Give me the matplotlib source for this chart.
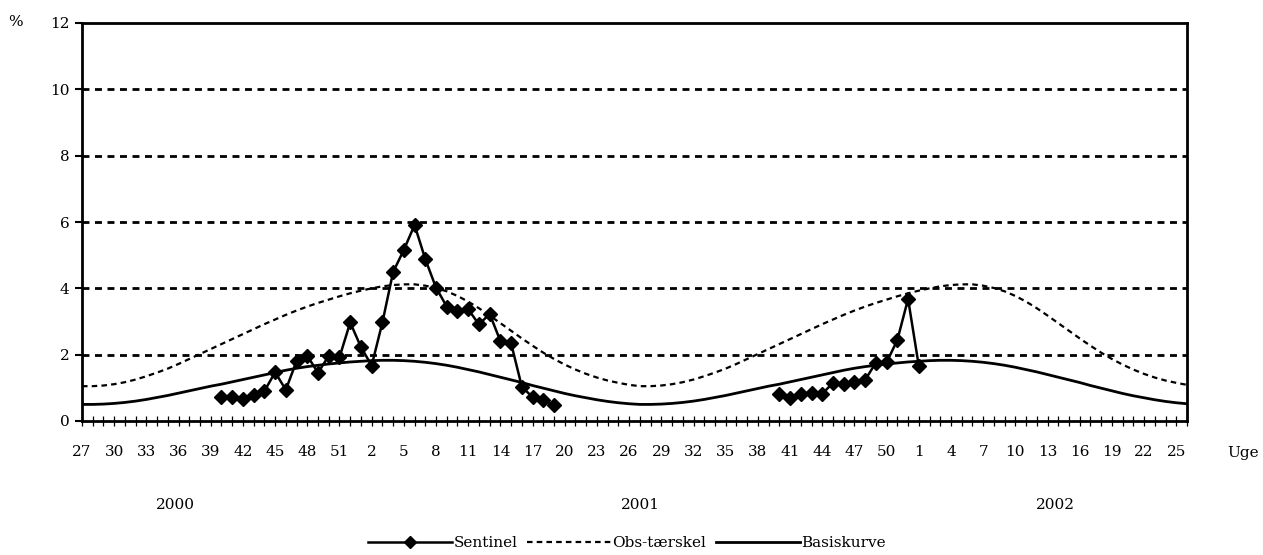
import numpy as np
import matplotlib
matplotlib.use("Agg")
import matplotlib.pyplot as plt
from matplotlib.lines import Line2D

plt.rcParams['font.family'] = ['DejaVu Serif']
plt.rcParams['lines.scale_dashes'] = False

# Week categories: 2000 w27 .. 2002 w26
weeks = list(range(27, 53)) + list(range(1, 53)) + list(range(1, 27))
years = ["2000", "2001", "2002"]

nan = np.nan
sentinel = ([nan] * 13 +
            [0.71, 0.71, 0.66, 0.78, 0.90, 1.47, 0.94, 1.81, 1.97, 1.45, 1.97, 1.92, 2.97,
             2.23, 1.67, 2.97, 4.49, 5.16, 5.91, 4.88, 4.02, 3.45, 3.32, 3.37, 2.91, 3.23,
             2.41, 2.34, 1.03, 0.72, 0.63, 0.48] +
            [nan] * 20 +
            [0.80, 0.68, 0.80, 0.85, 0.82, 1.15, 1.12, 1.17, 1.24, 1.76, 1.77, 2.44, 3.68,
             1.66] +
            [nan] * 25)

obs_threshold = [1.05, 1.05, 1.07, 1.11, 1.17, 1.25, 1.35, 1.46, 1.58, 1.72, 1.87, 2.02, 2.17,
                 2.32, 2.47, 2.62, 2.77, 2.92, 3.06, 3.20, 3.33, 3.45, 3.56, 3.66, 3.76, 3.85,
                 3.93, 4.00, 4.06, 4.10, 4.12, 4.12, 4.08, 4.01, 3.91, 3.77, 3.60, 3.40, 3.18,
                 2.95, 2.72, 2.49, 2.27, 2.06, 1.87, 1.70, 1.55, 1.42, 1.31, 1.22, 1.15, 1.09,
                 1.05, 1.05, 1.07, 1.11, 1.17, 1.25, 1.35, 1.46, 1.58, 1.72, 1.87, 2.02, 2.17,
                 2.32, 2.47, 2.62, 2.77, 2.92, 3.06, 3.20, 3.33, 3.45, 3.56, 3.66, 3.76, 3.85,
                 3.93, 4.00, 4.06, 4.10, 4.12, 4.12, 4.08, 4.01, 3.91, 3.77, 3.60, 3.40, 3.18,
                 2.95, 2.72, 2.49, 2.27, 2.06, 1.87, 1.70, 1.55, 1.42, 1.31, 1.22, 1.15, 1.09]

baseline = [0.50, 0.50, 0.51, 0.53, 0.56, 0.60, 0.65, 0.71, 0.77, 0.84, 0.91, 0.98, 1.05,
            1.11, 1.18, 1.25, 1.32, 1.39, 1.46, 1.53, 1.59, 1.64, 1.68, 1.72, 1.75, 1.78,
            1.80, 1.82, 1.83, 1.83, 1.82, 1.80, 1.77, 1.73, 1.68, 1.62, 1.55, 1.48, 1.40,
            1.32, 1.24, 1.16, 1.07, 0.99, 0.91, 0.83, 0.76, 0.70, 0.64, 0.59, 0.55, 0.52,
            0.50, 0.50, 0.51, 0.53, 0.56, 0.60, 0.65, 0.71, 0.77, 0.84, 0.91, 0.98, 1.05,
            1.11, 1.18, 1.25, 1.32, 1.39, 1.46, 1.53, 1.59, 1.64, 1.68, 1.72, 1.75, 1.78,
            1.80, 1.82, 1.83, 1.83, 1.82, 1.80, 1.77, 1.73, 1.68, 1.62, 1.55, 1.48, 1.40,
            1.32, 1.24, 1.16, 1.07, 0.99, 0.91, 0.83, 0.76, 0.70, 0.64, 0.59, 0.55, 0.52]

y_ticks = [0, 2, 4, 6, 8, 10, 12]

x = np.arange(len(weeks))

fig = plt.figure(figsize=(12.63, 5.55), dpi=100)
ax = fig.add_axes([82 / 1263, 1 - 421 / 555, (1187 - 82) / 1263, (421 - 23) / 555])

# grid
for yv in y_ticks[1:-1]:
    ax.axhline(yv, color='black', lw=2.0, linestyle=(0, (5, 4)), zorder=1)

ax.plot(x, obs_threshold, color='black', lw=1.6, linestyle=(0, (4, 3)), zorder=2)
ax.plot(x, baseline, color='black', lw=2.0, zorder=2)
ax.plot(x, sentinel, color='black', lw=1.8, marker='D', markersize=7.5, zorder=3)

ax.set_xlim(0, len(weeks) - 1)
ax.set_ylim(0, 12)
ax.set_yticks(y_ticks)
ax.set_yticklabels([str(v) for v in y_ticks], fontsize=11)
ax.set_xticks(x)
ax.set_xticklabels([str(w) if i % 3 == 0 else "" for i, w in enumerate(weeks)], fontsize=11)

ax.tick_params(axis='x', direction='inout', length=7, width=0.9, pad=14)
ax.tick_params(axis='y', direction='out', length=5, width=1.5, pad=4)
for s in ax.spines.values():
    s.set_linewidth(2)
    s.set_color('black')

fig.text(15 / 1263, 1 - 22 / 555, "%", fontsize=11, ha='center', va='center')
fig.text(1243 / 1263, 1 - 453 / 555, "Uge", fontsize=11, ha='center', va='center')
for xp, yr in zip([175, 640, 1055], years):
    fig.text(xp / 1263, 1 - 505 / 555, yr, fontsize=11, ha='center', va='center')

handles = [Line2D([], [], color='black', lw=1.8, marker='D', markersize=6),
           Line2D([], [], color='black', lw=1.6, linestyle=(0, (4, 3))),
           Line2D([], [], color='black', lw=2.0)]
fig.legend(handles, ["Sentinel", "Obs-tærskel", "Basiskurve"], loc='center',
           bbox_to_anchor=(627 / 1263, 1 - 543 / 555), ncol=3, frameon=False,
           fontsize=11, handlelength=5.5, handletextpad=0.1, columnspacing=0.6,
           borderpad=0, borderaxespad=0)

fig.savefig("out.png", dpi=100)
